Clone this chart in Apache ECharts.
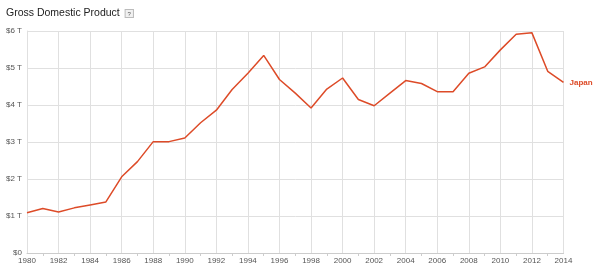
<!DOCTYPE html>
<html><head><meta charset="utf-8">
<script src="https://cdn.jsdelivr.net/npm/echarts@6/dist/echarts.min.js"></script>
<style>html,body{margin:0;padding:0;background:#fff}#c{width:600px;height:270px}</style>
</head><body><div id="c"></div>
<script>
const years = [1980,1981,1982,1983,1984,1985,1986,1987,1988,1989,1990,1991,1992,1993,1994,1995,1996,1997,1998,1999,2000,2001,2002,2003,2004,2005,2006,2007,2008,2009,2010,2011,2012,2013,2014];
const gdpJapan = [1.09,1.20,1.11,1.22,1.30,1.38,2.06,2.47,3.01,3.01,3.11,3.52,3.86,4.42,4.86,5.34,4.69,4.32,3.92,4.43,4.73,4.15,3.98,4.32,4.66,4.58,4.36,4.36,4.86,5.03,5.49,5.91,5.95,4.91,4.61];
const seriesName = 'Japan';
const titleText = 'Gross Domestic Product';

const chart = echarts.init(document.getElementById('c'), null, {renderer:'canvas'});
chart.setOption({
  animation:false,
  title:{
    text: titleText + '  {q|?}',
    left:1, top:3,
    textStyle:{fontFamily:'Arial, Liberation Sans', fontSize:10.5, fontWeight:'normal', color:'#222',
      rich:{q:{fontSize:6, color:'#555', borderColor:'#bbb', borderWidth:1, backgroundColor:'#f1f1f1', padding:[1,2,0,2], fontFamily:'Arial, Liberation Sans'}}}
  },
  grid:{left:27, right:36.5, top:31, bottom:17, containLabel:false},
  xAxis:{
    type:'value', min:1980, max:2014, interval:2,
    axisLine:{show:true, onZero:false, lineStyle:{color:'#ccc'}},
    axisTick:{show:false},
    minorTick:{show:true, splitNumber:2, length:3, lineStyle:{color:'#ccc'}},
    splitLine:{show:true, lineStyle:{color:'#e0e0e0'}},
    axisLabel:{formatter:v=>String(v), fontSize:8, color:'#555', margin:4, fontFamily:'Arial, Liberation Sans'}
  },
  yAxis:{
    type:'value', min:0, max:6, interval:1,
    axisLine:{show:true, lineStyle:{color:'#e0e0e0'}},
    axisTick:{show:false},
    splitLine:{show:true, lineStyle:{color:'#e0e0e0'}},
    axisLabel:{formatter:v=> v===0 ? '$0' : '$'+v+' T', fontSize:8, color:'#555', margin:5, fontFamily:'Arial, Liberation Sans'}
  },
  series:[{
    name:seriesName, type:'line',
    data: years.map((y,i)=>[y,gdpJapan[i]]),
    showSymbol:false, symbol:'none',
    lineStyle:{color:'#dd4b28', width:1.5},
    itemStyle:{color:'#dd4b28'},
    endLabel:{show:true, formatter:'{a}', color:'#dd4b28', fontSize:8, fontWeight:'bold', distance:6, fontFamily:'Arial, Liberation Sans'}
  }]
});
</script></body></html>
